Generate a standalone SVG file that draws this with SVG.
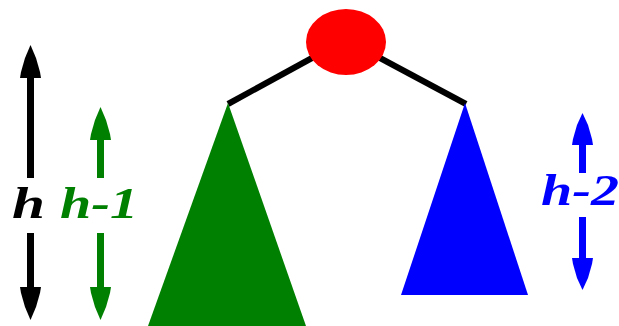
<svg xmlns="http://www.w3.org/2000/svg" width="619" height="326" viewBox="0 0 619 326">
<style>
.lbl{font-family:"Liberation Serif","DejaVu Serif",serif;font-weight:bold;font-style:italic;font-size:44px}
.edge{stroke:#000;stroke-width:6;stroke-linecap:butt}
</style>
<rect width="619" height="326" fill="#fff"/>
<g id="connectors">
<line class="edge" x1="312" y1="58" x2="228" y2="104"/>
<line class="edge" x1="380" y1="58" x2="466" y2="104"/>
</g>
<g id="root"><ellipse cx="346" cy="42" rx="40" ry="33" fill="#ff0000"/></g>
<g id="left-subtree"><polygon points="228,103 148,326 306,326" fill="#008000"/></g>
<g id="right-subtree"><polygon points="465,103 401,295 528,295" fill="#0000ff"/></g>
<g id="h-arrow" fill="#000">
<rect x="27" y="70" width="7" height="108"/>
<rect x="27" y="233" width="7" height="60"/>
<polygon points="30.5,45 36,58 40,72 41,78 20,78 21,72 25,58"/>
<polygon points="30.5,320 36,307 40,293 41,287 20,287 21,293 25,307"/>
<text class="lbl" x="12" y="218" textLength="33" lengthAdjust="spacingAndGlyphs">h</text>
</g>
<g id="h1-arrow" fill="#008000">
<rect x="97" y="130" width="7" height="48"/>
<rect x="97" y="233" width="7" height="60"/>
<polygon points="100.5,107 106,120 110,134 111,140 90,140 91,134 95,120"/>
<polygon points="100.5,320 106,307 110,293 111,287 90,287 91,293 95,307"/>
<text class="lbl" x="60" y="218" textLength="78" lengthAdjust="spacingAndGlyphs">h-1</text>
</g>
<g id="h2-arrow" fill="#0000ff">
<rect x="579" y="135" width="7" height="38"/>
<rect x="579" y="217" width="7" height="50"/>
<polygon points="582.5,113 588,125 592,139 593,145 572,145 573,139 577,125"/>
<polygon points="582.5,290 588,278 592,264 593,258 572,258 573,264 577,278"/>
<text class="lbl" x="541" y="205" textLength="78" lengthAdjust="spacingAndGlyphs">h-2</text>
</g>
</svg>
